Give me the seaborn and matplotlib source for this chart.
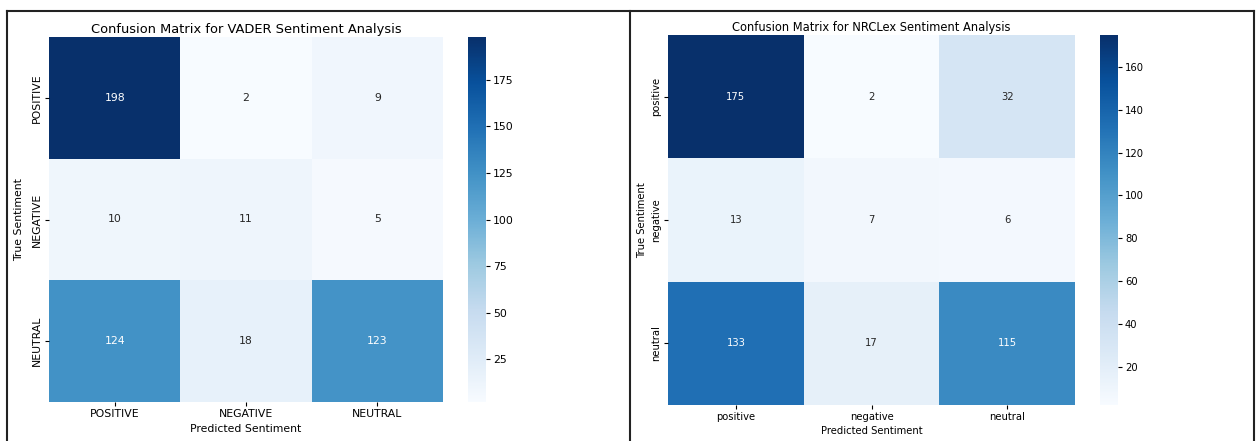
import numpy as np
import matplotlib
matplotlib.use("Agg")
import matplotlib.pyplot as plt
from matplotlib.lines import Line2D
import seaborn as sns

# Confusion matrices (rows: true label, columns: predicted label)
vader_labels = ["POSITIVE", "NEGATIVE", "NEUTRAL"]
vader_counts = [
    [198, 2, 9],
    [10, 11, 5],
    [124, 18, 123],
]

nrclex_labels = ["positive", "negative", "neutral"]
nrclex_counts = [
    [175, 2, 32],
    [13, 7, 6],
    [133, 17, 115],
]

W, H = 1257, 441
fig = plt.figure(figsize=(W / 100, H / 100), dpi=100)


def box(x, y, w, h):
    # pixel box (top-left origin) -> figure fraction
    return [x / W, 1 - (y + h) / H, w / W, h / H]


def draw_panel(counts, labels, title, ax_box, cb_box, fs, tfs, xpad, ypad):
    ax = fig.add_axes(box(*ax_box))
    cax = fig.add_axes(box(*cb_box))
    sns.heatmap(
        np.array(counts), annot=True, fmt="d", cmap="Blues",
        xticklabels=labels, yticklabels=labels,
        ax=ax, cbar_ax=cax, annot_kws={"fontsize": fs},
    )
    ax.set_title(title, fontsize=tfs, pad=3)
    ax.set_xlabel("Predicted Sentiment", fontsize=fs, labelpad=xpad)
    ax.set_ylabel("True Sentiment", fontsize=fs, labelpad=ypad)
    ax.tick_params(axis="both", labelsize=fs, length=3, pad=2)
    cax.tick_params(labelsize=fs, length=3, pad=2)
    for s in cax.spines.values():
        s.set_visible(False)
    return ax


draw_panel(vader_counts, vader_labels,
           "Confusion Matrix for VADER Sentiment Analysis",
           (49, 37, 394, 365), (468, 37, 18, 365), 7.8, 9.4, 4, 6)
draw_panel(nrclex_counts, nrclex_labels,
           "Confusion Matrix for NRCLex Sentiment Analysis",
           (668, 35, 407, 370), (1100, 35, 18, 370), 7.2, 8.3, 3, 3)

# Frames around the two panels
frame_kw = dict(color="#222222", linewidth=1.5, transform=fig.transFigure)
ytop = 1 - 11 / H
for x in (7, 630, 1254):
    fig.add_artist(Line2D([x / W, x / W], [0, ytop], **frame_kw))
fig.add_artist(Line2D([7 / W, 1254 / W], [ytop, ytop], **frame_kw))

fig.savefig("out.png", dpi=100)
